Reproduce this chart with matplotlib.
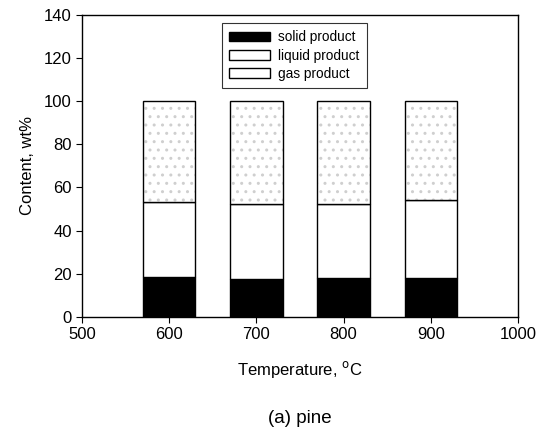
import matplotlib
matplotlib.use("Agg")
import matplotlib.pyplot as plt
from matplotlib.patches import Patch

plt.rcParams['font.family'] = ['Liberation Sans', 'DejaVu Sans']

# data
temps = [600, 700, 800, 900]
solid = [18.5, 17.6, 17.9, 17.9]
liquid = [35.0, 34.8, 34.6, 36.2]
gas = [100 - s - l for s, l in zip(solid, liquid)]

fig = plt.figure(figsize=(5.4, 4.36), dpi=100)
ax = fig.add_axes([0.152, 0.273, 0.807, 0.693])

w = 60
ax.bar(temps, solid, width=w, color='black', edgecolor='black', lw=1, label='solid product')
ax.bar(temps, liquid, width=w, bottom=solid, color='white', edgecolor='black', lw=1, label='liquid product')
base2 = [s + l for s, l in zip(solid, liquid)]
# stipple for the gas part, then the outline on top
ax.bar(temps, gas, width=w, bottom=base2, color='white', edgecolor='#cfcfcf', lw=0, hatch='..')
ax.bar(temps, gas, width=w, bottom=base2, color='none', edgecolor='black', lw=1, label='gas product')

ax.set_xlim(500, 1000)
ax.set_ylim(0, 140)
ax.set_xticks([500, 600, 700, 800, 900, 1000])
ax.set_yticks(range(0, 141, 20))
ax.tick_params(direction='out', length=4, labelsize=12, width=0.8)
for sp in ax.spines.values():
    sp.set_linewidth(1)

ax.set_ylabel('Content, wt%', fontsize=12, labelpad=6)
ax.set_xlabel(r'Temperature, $^{\rm o}$C', fontsize=12, labelpad=12)

h, l = ax.get_legend_handles_labels()
# gas legend patch: plain white box
h[2] = Patch(facecolor='white', edgecolor='black')
leg = ax.legend(h, l, loc='upper left', bbox_to_anchor=(0.32, 0.973), fontsize=9.8,
                frameon=True, fancybox=False, edgecolor='black', handlelength=3.0,
                handleheight=0.7, labelspacing=0.3, borderpad=0.55, handletextpad=0.6,
                borderaxespad=0)
leg.get_frame().set_linewidth(0.8)

fig.text(0.555, 0.03, '(a) pine', ha='center', fontsize=13.5)

plt.savefig('out.png', dpi=100)
